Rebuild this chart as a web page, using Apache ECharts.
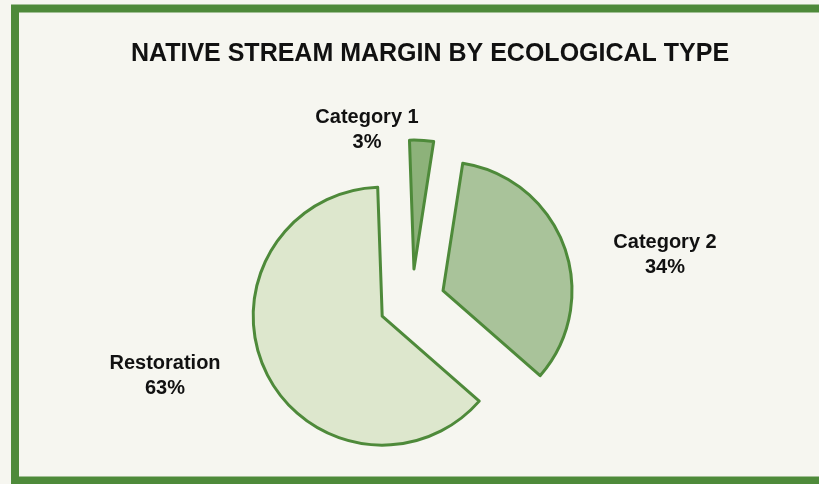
<!DOCTYPE html>
<html>
<head>
<meta charset="utf-8">
<title>Native Stream Margin by Ecological Type</title>
<script src="https://cdn.jsdelivr.net/npm/echarts@6/dist/echarts.min.js"></script>
<style>
  html, body { margin: 0; padding: 0; background: #f6f6f0; }
  #chart { width: 819px; height: 484px; }
</style>
</head>
<body>
<div id="chart"></div>
<script>
// Share of native stream margin per ecological type (percent)
const categories = ['Category 1', 'Category 2', 'Restoration'];
const shares = [3, 34, 63];
const fills = ['#8db27a', '#a9c39a', '#dde7cd'];

// Centre of each two-line label block
const labelSpots = [[367, 130], [665, 255], [165, 376]];

const FONT = '"Liberation Sans", Arial, sans-serif';
const LINE_GREEN = '#4e8a3a';

const chart = echarts.init(document.getElementById('chart'), null, { renderer: 'canvas' });

// Category labels: name on the first line, share on the second
const labelTexts = categories.map((name, i) => ({
  type: 'text',
  silent: true,
  z: 50,
  style: {
    text: name + '\n' + shares[i] + '%',
    x: labelSpots[i][0],
    y: labelSpots[i][1],
    align: 'center',
    verticalAlign: 'middle',
    font: 'bold 20px ' + FONT,
    lineHeight: 25,
    fill: '#111'
  }
}));

chart.setOption({
  backgroundColor: '#f6f6f0',
  animation: false,
  title: {
    text: 'NATIVE STREAM MARGIN BY ECOLOGICAL TYPE',
    left: 425,
    textAlign: 'center',
    top: 37,
    textStyle: {
      fontFamily: FONT,
      fontWeight: 'bold',
      fontSize: 25,
      color: '#111'
    }
  },
  graphic: [{
    type: 'rect',
    shape: { x: 15, y: 8.5, width: 830, height: 472 },
    style: { fill: 'none', stroke: LINE_GREEN, lineWidth: 8 },
    silent: true,
    z: 100
  }].concat(labelTexts),
  series: [{
    type: 'pie',
    center: [412, 302],
    radius: 129,
    startAngle: 92,
    clockwise: true,
    selectedMode: 'multiple',
    selectedOffset: 33,
    itemStyle: { borderColor: LINE_GREEN, borderWidth: 3 },
    emphasis: { disabled: true },
    label: { show: false },
    labelLine: { show: false },
    data: categories.map((name, i) => ({
      name: name,
      value: shares[i],
      selected: true,
      itemStyle: { color: fills[i] },
      select: { itemStyle: { color: fills[i], borderColor: LINE_GREEN, borderWidth: 3 } }
    }))
  }]
});
</script>
</body>
</html>
